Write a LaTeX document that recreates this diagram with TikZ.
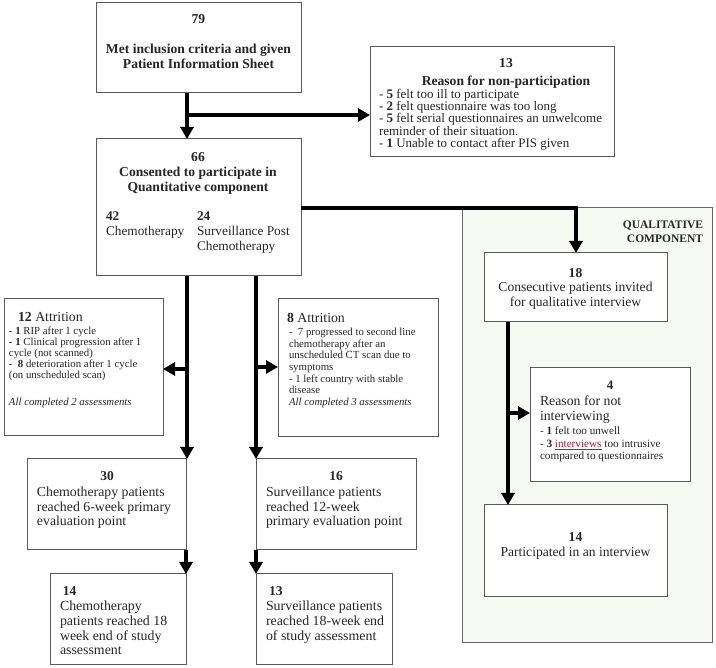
\documentclass[tikz,border=0pt]{standalone}
\usepackage{fontspec}
\setmainfont{Liberation Serif}
\usetikzlibrary{arrows.meta,calc}
\definecolor{qgreen}{HTML}{F5FAF3}
\definecolor{linkred}{HTML}{A0203C}
\newcommand\myfs[2]{\fontsize{#1}{#2}\selectfont}
\begin{document}
\begin{tikzpicture}[x=1pt,y=-1pt,
 box/.style={draw=black!65, line width=1pt, fill=white, anchor=north west, inner sep=0pt, outer sep=0pt},
 txt/.style={inner sep=0pt, outer sep=0pt, align=left, text=black!85},
 arr/.style={line width=4pt, -{Triangle[width=13pt,length=12pt]}}]
\useasboundingbox (0,0) rectangle (716,668);
% boxes
\node[box, minimum width=250pt, minimum height=435pt, fill=qgreen, draw=black!60] (qc) at (462,208) {};
\node[box, minimum width=205pt, minimum height=90pt] (b79) at (96,3) {};
\node[box, minimum width=244pt, minimum height=110pt] (b13) at (370,47) {};
\node[box, minimum width=205pt, minimum height=137pt] (b66) at (96,139) {};
\node[box, minimum width=159pt, minimum height=137pt] (b12) at (4,299) {};
\node[box, minimum width=160pt, minimum height=138pt] (b8) at (278,299) {};
\node[box, minimum width=159pt, minimum height=91pt] (b30) at (27,459) {};
\node[box, minimum width=160pt, minimum height=91pt] (b16) at (256,459) {};
\node[box, minimum width=136pt, minimum height=91pt] (b14c) at (50,574) {};
\node[box, minimum width=136pt, minimum height=91pt] (b13s) at (256,574) {};
\node[box, minimum width=183pt, minimum height=69pt] (b18) at (484,253) {};
\node[box, minimum width=160pt, minimum height=114pt] (b4) at (530,368) {};
\node[box, minimum width=183pt, minimum height=92pt] (b14p) at (484,505) {};
% texts
\node[txt, anchor=north, align=center, font=\myfs{13.6}{14.5}\bfseries] (t79) at (198.5,14) {79\\[16pt]Met inclusion criteria and given\\Patient Information Sheet};
\node[txt, anchor=north, align=center, font=\myfs{13.6}{15}\bfseries] (t13h) at (506,58) {13\\[3pt]Reason for non-participation};
\node[txt, anchor=north west, font=\myfs{13}{12.4}] (t13l) at (379,89) {- \textbf{5} felt too ill to participate\\- \textbf{2} felt questionnaire was too long\\- \textbf{5} felt serial questionnaires an unwelcome\\reminder of their situation.\\- \textbf{1} Unable to contact after PIS given};
\node[txt, anchor=north, align=center, font=\myfs{13.6}{15}\bfseries] (t66) at (198,152) {66\\Consented to participate in\\Quantitative component};
\node[txt, anchor=north west, font=\myfs{13.3}{15}] (t42) at (106,212) {\textbf{42}\\Chemotherapy};
\node[txt, anchor=north west, font=\myfs{13.3}{15}] (t24) at (197,212) {\textbf{24}\\Surveillance Post\\Chemotherapy};
\node[txt, anchor=north west, font=\myfs{13.8}{14}] (t12h) at (18,312) {\textbf{12} Attrition};
\node[txt, anchor=north west, font=\myfs{10.8}{11}] (t12l) at (9,327) {- \textbf{1} RIP after 1 cycle\\- \textbf{1} Clinical progression after 1\\cycle (not scanned)\\-\ \ \textbf{8} deterioration after 1 cycle\\(on unscheduled scan)\\[16pt]\textit{All completed 2 assessments}};
\node[txt, anchor=north west, font=\myfs{13.8}{14}] (t8h) at (287,313) {\textbf{8} Attrition};
\node[txt, anchor=north west, font=\myfs{10.8}{11.7}] (t8l) at (289,328) {-\ \ 7 progressed to second line\\chemotherapy after an\\unscheduled CT scan due to\\symptoms\\- 1 left country with stable\\disease\\\textit{All completed 3 assessments}};
\node[txt, anchor=north, align=center, font=\myfs{13.6}{14.5}] (t18) at (575.5,268) {\textbf{18}\\Consecutive patients invited\\for qualitative interview};
\node[txt, anchor=north, font=\myfs{13}{14}\bfseries] (t4n) at (610,381) {4};
\node[txt, anchor=north west, font=\myfs{13.8}{15}] (t4h) at (540,396) {Reason for not\\interviewing};
\node[txt, anchor=north west, font=\myfs{11.2}{12.5}] (t4l) at (540,427) {- \textbf{1} felt too unwell\\- \textbf{3} \textcolor{linkred}{\underline{interviews}} too intrusive\\compared to questionnaires};
\node[txt, anchor=north, align=center, font=\myfs{13.6}{15}] (t14p) at (575.5,533) {\textbf{14}\\Participated in an interview};
\node[txt, anchor=north, font=\myfs{13.5}{14}\bfseries] (t30n) at (107,472) {30};
\node[txt, anchor=north west, font=\myfs{13.8}{14.5}] (t30) at (37,487) {Chemotherapy patients\\reached 6-week primary\\evaluation point};
\node[txt, anchor=north, font=\myfs{13.5}{14}\bfseries] (t16n) at (336,472) {16};
\node[txt, anchor=north west, font=\myfs{13.8}{14.5}] (t16) at (266,487) {Surveillance patients\\reached 12-week\\primary evaluation point};
\node[txt, anchor=north west, font=\myfs{13.5}{14}\bfseries] (t14cn) at (63,587) {14};
\node[txt, anchor=north west, font=\myfs{13.9}{14.7}] (t14c) at (60,601) {Chemotherapy\\patients reached 18\\week end of study\\assessment};
\node[txt, anchor=north west, font=\myfs{13.5}{14}\bfseries] (t13sn) at (269,587) {13};
\node[txt, anchor=north west, font=\myfs{13.9}{14.7}] (t13s) at (266,601) {Surveillance patients\\reached 18-week end\\of study assessment};
\node[txt, anchor=north east, align=right, font=\myfs{11.5}{14}\bfseries] (tq) at (703,221) {QUALITATIVE\\COMPONENT};
% connectors
\coordinate (j1) at (187,115);
\draw[arr] (b79.south -| j1) -- (b66.north -| j1);
\draw[arr] (j1) -- (b13.west |- j1);
\coordinate (j2) at (576,208);
\draw[arr] (b66.east |- j2) -- (j2) -- (b18.north -| j2);
\coordinate (j3) at (187,369);
\draw[arr] (b66.south -| j3) -- (b30.north -| j3);
\draw[arr] (j3) -- (b12.east |- j3);
\coordinate (j4) at (256,367);
\draw[arr] (b66.south -| j4) -- (b16.north -| j4);
\draw[arr] (j4) -- (b8.west |- j4);
\draw[arr] (b30.south east) -- (b14c.north east);
\draw[arr] (b16.south west) -- (b13s.north west);
\coordinate (j6) at (508,413);
\draw[arr] (b18.south -| j6) -- (b14p.north -| j6);
\draw[arr] (j6) -- (b4.west |- j6);
\end{tikzpicture}
\end{document}
